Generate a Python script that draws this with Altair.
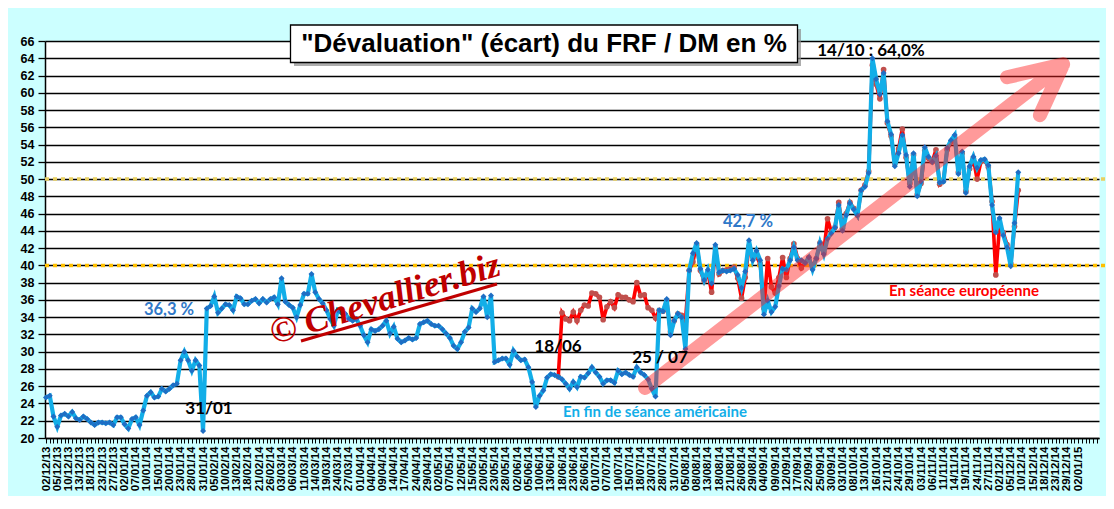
import json
import pandas as pd
import altair as alt

# ---------------- data ----------------
tick_labels = [
    "02/12/13", "05/12/13", "10/12/13", "13/12/13", "18/12/13", "23/12/13", "27/12/13",
    "02/01/14", "07/01/14", "10/01/14", "15/01/14", "20/01/14", "23/01/14", "28/01/14", "31/01/14",
    "05/02/14", "10/02/14", "13/02/14", "18/02/14", "21/02/14", "26/02/14",
    "03/03/14", "06/03/14", "11/03/14", "14/03/14", "19/03/14", "24/03/14", "27/03/14",
    "01/04/14", "04/04/14", "09/04/14", "14/04/14", "17/04/14", "24/04/14", "29/04/14",
    "02/05/14", "07/05/14", "12/05/14", "15/05/14", "20/05/14", "23/05/14", "28/05/14",
    "02/06/14", "05/06/14", "10/06/14", "13/06/14", "18/06/14", "23/06/14", "26/06/14",
    "01/07/14", "07/07/14", "10/07/14", "15/07/14", "18/07/14", "23/07/14", "28/07/14", "31/07/14",
    "05/08/14", "08/08/14", "13/08/14", "18/08/14", "21/08/14", "26/08/14", "29/08/14",
    "04/09/14", "09/09/14", "12/09/14", "17/09/14", "22/09/14", "25/09/14", "30/09/14",
    "03/10/14", "08/10/14", "13/10/14", "16/10/14", "21/10/14", "24/10/14", "29/10/14",
    "03/11/14", "06/11/14", "11/11/14", "14/11/14", "19/11/14", "24/11/14", "27/11/14",
    "02/12/14", "05/12/14", "10/12/14", "15/12/14", "18/12/14", "23/12/14", "29/12/14",
    "02/01/15",
]

# end of American session (blue), one value per trading day from 02/12/13
blue_values = [
    24.7, 24.9, 22.5, 21.3, 22.6, 22.8, 22.5, 23.0, 22.3, 22.1, 22.5, 22.2, 21.8, 21.5, 21.8,
    21.8, 21.7, 21.8, 21.5, 22.4, 22.4, 21.6, 21.1, 22.2, 22.4, 21.5, 23.2, 24.9, 25.3, 24.7,
    24.8, 25.7, 25.4, 25.7, 26.1, 26.3, 29.0, 30.0, 29.0, 27.8, 29.0, 28.4, 20.8,
    35.0, 35.3, 36.4, 34.5, 35.0, 35.5, 35.4, 34.8, 36.4, 36.2, 35.5, 35.5, 35.9, 36.1, 35.6,
    36.1, 35.7, 36.1, 36.3, 35.5, 38.5, 35.8, 35.4, 35.1, 34.0, 35.4,
    36.7, 36.7, 39.0, 36.9, 36.1, 35.6, 34.8, 33.8, 33.0, 34.8, 34.5, 34.4, 33.8, 33.6, 33.8,
    33.0, 31.9, 31.1, 32.6, 32.4, 32.6, 33.0, 33.6, 32.1, 32.9, 31.5, 31.1, 31.3, 31.6, 31.4,
    31.6, 33.2, 33.4, 33.6, 33.2, 33.0, 33.0, 32.6, 32.1, 31.6, 30.7, 30.3, 31.1, 32.3, 32.8,
    35.0, 34.6, 35.0, 36.4, 34.0, 36.5, 28.8, 29.0, 29.2, 29.2, 28.5, 30.1, 29.4, 29.0, 29.1,
    28.2, 26.5, 23.6, 24.9, 25.5, 27.0, 27.4,
    27.3, 27.1, 26.8, 26.3, 25.7, 26.5, 25.9, 27.1, 27.0, 27.5, 28.2, 27.6, 27.1, 26.3, 26.7,
    26.7, 26.4, 27.8, 27.4, 27.6, 27.3, 27.1, 28.2, 27.6, 27.3, 26.8, 25.7, 24.8, 34.8, 34.7,
    36.1, 31.9, 33.6, 34.4, 34.0, 30.3, 39.4, 41.4, 42.6, 39.6, 38.3, 39.5, 37.9, 42.4, 39.2,
    39.4, 39.3, 39.4, 39.6, 38.9, 37.4, 39.3, 42.9, 40.6, 41.7, 40.6, 34.3, 35.9, 34.6, 35.2,
    37.6, 39.6, 39.5, 40.6, 42.1, 40.6, 40.6, 40.3, 40.9, 39.5, 40.8, 42.6, 41.3, 43.1, 43.7,
    44.4, 47.0, 44.0, 45.8, 47.2, 46.5, 45.8, 48.7, 49.1,
    50.7, 64.0, 61.6, 59.8, 62.3, 56.7, 55.2, 51.5, 53.0, 55.1, 52.8, 49.1, 53.0, 48.0, 49.7,
    53.7, 52.6, 52.0, 52.7, 49.6, 49.7, 53.6, 54.5, 55.1, 50.6, 53.2, 48.4, 51.5, 52.6, 51.3,
    52.2, 52.3, 51.6, 47.0, 43.8, 45.5, 43.5, 42.1, 39.9, 44.9, 50.8,
]

# European session (red), starts on 17/06/14 (trading day index 137)
red_start = 137
red_values = [
    27.1, 34.5, 33.8, 33.6, 34.6, 33.6, 34.8, 35.4, 35.3, 36.8, 36.7, 36.3, 33.7, 35.2, 35.8,
    35.1, 36.6, 36.3, 36.3, 36.0, 35.8, 38.0, 36.5, 36.6, 35.1, 34.8, 33.9,
    34.8, 34.7, 35.9, 32.3, 33.6, 34.4, 34.2, 33.5, 39.4, 40.4, 42.4, 39.4, 38.2, 39.2, 36.9,
    42.0, 39.0,
    39.4, 39.5, 39.6, 39.8, 38.5, 36.2, 38.6, 42.2, 41.0, 41.0, 40.2, 35.0, 40.8, 37.5, 36.8,
    38.6, 40.9, 38.6, 40.8, 42.5, 40.8, 39.7, 40.3, 40.9, 39.8, 40.8, 42.6, 41.5, 45.4, 43.9,
    44.4, 47.3, 44.3, 46.0, 47.3, 46.6, 45.8, 48.7, 49.3,
    50.9, 63.2, 61.0, 59.3, 62.7, 56.5, 55.0, 51.8, 53.5, 55.8, 52.5, 49.5, 52.8, 48.2, 49.5,
    53.3, 52.4, 52.0, 53.4, 49.4, 49.8, 53.4, 54.3, 54.8, 50.8, 53.0, 48.6, 51.2, 52.4, 50.0,
    52.0, 52.2, 51.4, 47.4, 38.9, 44.6, 43.8, 42.4, 40.2, 44.5, 48.7,
]

ref_levels = [40, 50]
ref_colors = ["#ffc000", "#e8cf60"]

# trend arrow (data units: trading-day index, %)
arrow_x = [160.2, 272.0, 257.0, 272.0, 265.8]
arrow_y = [25.8, 63.3, 61.8, 63.3, 57.4]

# ---------------- layout ----------------
W, H = 1054, 397
X_DOMAIN = [-0.27, 281.6]
Y_DOMAIN = [20, 66]

blue_df = pd.DataFrame({"idx": list(range(len(blue_values))), "v": blue_values})
red_df = pd.DataFrame({"idx": list(range(red_start, red_start + len(red_values))), "v": red_values})
ref_df = pd.DataFrame({"v": ref_levels, "c": ref_colors})
arrow_df = pd.DataFrame({"idx": arrow_x, "v": arrow_y, "o": list(range(len(arrow_x)))})
dummy = pd.DataFrame({"d": [0]})

x_scale = alt.Scale(domain=X_DOMAIN, nice=False, zero=False)
y_scale = alt.Scale(domain=Y_DOMAIN, nice=False, zero=False)

last_lab = 3 * (len(tick_labels) - 1)
label_expr = (
    f"(datum.value % 3 == 0 && datum.value <= {last_lab}) ? "
    f"{json.dumps(tick_labels)}[datum.value / 3] : ''"
)
x_axis = alt.Axis(
    values=list(range(0, 282)), labelExpr=label_expr, labelAngle=270,
    labelAlign="right", labelBaseline="middle", labelFont="Liberation Sans",
    labelFontSize=11.5, labelFontWeight="bold", labelColor="black",
    labelOverlap=False, labelFlush=False, labelPadding=3,
    tickSize=5, tickColor="black", tickWidth=1, domainColor="black", domainWidth=1.5,
    grid=False, title="",
)
y_axis = alt.Axis(
    values=list(range(20, 67, 2)), grid=True, gridColor="black", gridWidth=1.3,
    gridOpacity=1, tickColor="black", tickSize=7, tickWidth=1.3, domainColor="black",
    domainWidth=1.5, labelFont="Liberation Sans", labelFontSize=12.5,
    labelFontWeight="bold", labelColor="black", labelPadding=4, title="",
)

X = alt.X("idx:Q", scale=x_scale, axis=x_axis)
Y = alt.Y("v:Q", scale=y_scale, axis=y_axis)

dotted = alt.Chart(ref_df).mark_rule(strokeDash=[4, 4], strokeWidth=3.5).encode(
    y=Y, x=alt.value(0), x2=alt.value(W + 12), color=alt.Color("c:N", scale=None)
)
red_line = alt.Chart(red_df).mark_line(color="#ff0000", strokeWidth=3.6).encode(x=X, y=Y)
red_pts = alt.Chart(red_df).mark_point(
    shape="circle", filled=True, color="#c0504d", size=32, opacity=1
).encode(x=X, y=Y)
blue_line = alt.Chart(blue_df).mark_line(color="#12aee8", strokeWidth=4.2).encode(x=X, y=Y)
blue_pts = alt.Chart(blue_df).mark_point(
    shape="diamond", filled=True, color="#1f6ec4", size=36, opacity=1
).encode(x=X, y=Y)

arrow = alt.Chart(arrow_df).mark_line(
    color="#ff2020", opacity=0.45, strokeWidth=14, strokeCap="round", strokeJoin="round"
).encode(x=X, y=Y, order=alt.Order("o:Q"))

# ---------------- annotations ----------------
def txt(t, px, py, size, color, font="Lato", weight="bold", align="center", **kw):
    return alt.Chart(dummy).mark_text(
        text=t, font=font, fontSize=size, fontWeight=weight, color=color,
        align=align, baseline="middle", **kw
    ).encode(x=alt.value(px), y=alt.value(py))

annotations = [
    txt("14/10 : 64,0%", 826, 10, 17, "black"),
    txt("36,3 %", 124, 269, 16.5, "#2f78c8"),
    txt("31/01", 164, 368, 17, "black"),
    txt("18/06", 513, 306, 17, "black"),
    txt("25 / 07", 615, 317, 17, "black"),
    txt("42,7 %", 703, 181, 16.5, "#2f78c8"),
    txt("En fin de séance américaine", 518, 371, 15, "#12aee8", align="left"),
    txt("En séance européenne", 844, 250, 15, "#ff0000", align="left"),
]

watermark = txt("© Chevallier.biz", 340, 258, 36, "#c00000", font="Liberation Serif",
                weight="bold", fontStyle="italic", angle=343)
underline = alt.Chart(dummy).mark_rule(color="#c00000", strokeWidth=3).encode(
    x=alt.value(256), y=alt.value(300), x2=alt.value(452), y2=alt.value(243)
)

shadow = alt.Chart(dummy).mark_rect(color="#8a8a8a", opacity=0.7).encode(
    x=alt.value(249), x2=alt.value(756), y=alt.value(-12), y2=alt.value(25)
)
box = alt.Chart(dummy).mark_rect(color="white", stroke="black", strokeWidth=1.3).encode(
    x=alt.value(245.5), x2=alt.value(752.5), y=alt.value(-16), y2=alt.value(21.5)
)
title = txt('"Dévaluation" (écart) du FRF / DM en %', 499, 3, 26, "black",
            font="Liberation Sans")

chart = alt.layer(
    dotted, red_line, red_pts, blue_line, blue_pts, arrow, underline, watermark,
    *annotations, shadow, box, title
).properties(
    width=W, height=H,
    autosize=alt.AutoSizeParams(type="none"),
    padding={"left": 37, "top": 33, "right": 7, "bottom": 58},
    background="#ccffff",
).configure_view(fill="white", stroke="transparent")

chart.save("out.html", embed_options={"renderer": "svg", "actions": False})
